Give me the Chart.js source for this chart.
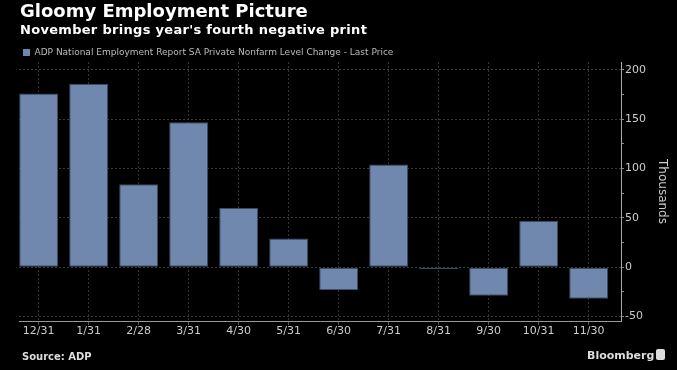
<!DOCTYPE html>
<html><head><meta charset="utf-8">
<script src="https://cdn.jsdelivr.net/npm/chart.js@4/dist/chart.umd.min.js"></script>
<style>
html,body{margin:0;padding:0;background:#000;width:677px;height:370px;overflow:hidden;}
#wrap{position:relative;width:677px;height:370px;background:#000;}
canvas{position:absolute;left:0;top:0;}
.t{position:absolute;white-space:nowrap;font-family:"DejaVu Sans",sans-serif;line-height:1;}
#icon{position:absolute;left:656px;top:349px;width:9px;height:11px;background:#ddd;border-radius:2px;}
</style></head><body>
<div id="wrap">
<canvas id="c" width="677" height="370"></canvas>
<div class="t" style="left:20px;top:2px;font-size:18px;font-weight:bold;color:#fff">Gloomy Employment Picture</div>
<div class="t" style="left:20px;top:23px;font-size:13px;font-weight:bold;color:#fff;letter-spacing:0.3px">November brings year's fourth negative print</div>
<div class="t" style="left:22px;top:352px;font-size:10px;font-weight:bold;color:#ddd">Source: ADP</div>
<div class="t" style="left:587px;top:350px;font-size:11px;font-weight:bold;color:#ddd">Bloomberg</div>
<div id="icon"></div>
</div>
<script>
const categories = ['12/31','1/31','2/28','3/31','4/30','5/31','6/30','7/31','8/31','9/30','10/31','11/30'];
const changes = [176, 186, 84, 147, 60, 29, -23, 104, -2, -29, 47, -32];
const seriesName = 'ADP National Employment Report SA Private Nonfarm Level Change - Last Price';
const yTickValues = [-50, 0, 50, 100, 150, 200];

const points = categories.map((c, i) => ({x: i, y: changes[i]}));
const FONT = 'DejaVu Sans';

new Chart(document.getElementById('c'), {
  type: 'bar',
  data: {
    datasets: [{
      label: seriesName,
      data: points,
      backgroundColor: '#7188ae',
      borderColor: '#3c4a62',
      borderWidth: 1,
      borderSkipped: false,
      categoryPercentage: 1,
      barPercentage: 0.78
    }]
  },
  options: {
    responsive: false,
    animation: false,
    layout: {padding: {top: 44, left: 19, right: 8, bottom: 31}},
    plugins: {
      tooltip: {enabled: false},
      legend: {
        display: true,
        position: 'top',
        align: 'start',
        maxHeight: 18,
        labels: {
          boxWidth: 7, boxHeight: 7, padding: 4,
          color: '#bbb',
          font: {family: FONT, size: 9},
          generateLabels: chart => {
            const l = Chart.defaults.plugins.legend.labels.generateLabels(chart);
            l.forEach(it => { it.lineWidth = 0; it.strokeStyle = 'transparent'; });
            return l;
          }
        }
      }
    },
    scales: {
      x: {
        type: 'linear',
        offset: false,
        min: -0.394, max: 11.646,
        afterFit: s => { s.height = 18; },
        border: {display: true, color: '#999', width: 1, dash: [2, 2]},
        grid: {offset: false, color: '#333', tickColor: '#555', tickLength: 4, drawOnChartArea: true},
        ticks: {
          stepSize: 1, includeBounds: false, autoSkip: false, maxRotation: 0,
          color: '#ccc', font: {family: FONT, size: 11}, padding: 0,
          callback: v => categories[v] !== undefined ? categories[v] : ''
        }
      },
      y: {
        position: 'right',
        min: -54.5, max: 208,
        afterFit: s => { s.width = 48; },
        border: {display: true, color: '#aaa', width: 1, dash: [2, 2]},
        grid: {
          color: ctx => (ctx.tick && yTickValues.includes(ctx.tick.value)) ? '#3a3a3a' : 'transparent',
          tickColor: '#888', tickLength: 3
        },
        ticks: {
          stepSize: 25, includeBounds: false, autoSkip: false,
          color: '#ccc', font: {family: FONT, size: 11}, padding: 1,
          callback: v => yTickValues.includes(v) ? String(v) : ''
        },
        title: {display: true, text: 'Thousands', color: '#ccc', font: {family: FONT, size: 12}, padding: {top: 0, bottom: 0}}
      }
    }
  }
});
</script>
</body></html>
